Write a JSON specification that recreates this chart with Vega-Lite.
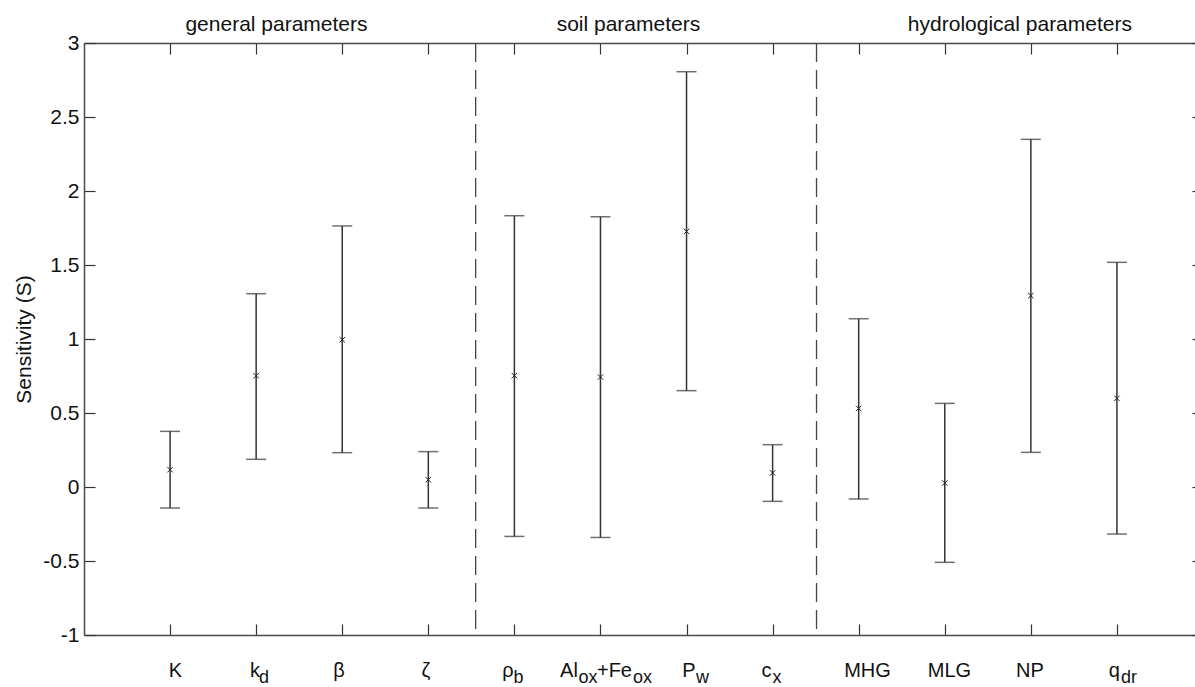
{
  "$schema": "https://vega.github.io/schema/vega-lite/v6.json",
  "autosize": {"type": "none"},
  "padding": {"left": 84, "top": 43, "right": -8, "bottom": 52},
  "width": 1119,
  "height": 592,
  "background": "white",
  "config": {
    "view": {"stroke": null},
    "font": "Liberation Sans",
    "axis": {"grid": false, "domainColor": "#4a4a4a", "domainWidth": 1.5, "tickColor": "#333333", "tickWidth": 1.2, "labelFont": "Liberation Sans", "titleFont": "Liberation Sans", "labelColor": "#111111", "titleColor": "#111111"}
  },
  "datasets": {
    "sens": [
      {"param": "K", "pos": 1, "lo": -0.142, "mid": 0.117, "hi": 0.376},
      {"param": "kd", "pos": 2, "lo": 0.187, "mid": 0.752, "hi": 1.306},
      {"param": "beta", "pos": 3, "lo": 0.232, "mid": 0.995, "hi": 1.764},
      {"param": "zeta", "pos": 4, "lo": -0.142, "mid": 0.049, "hi": 0.239},
      {"param": "rho_b", "pos": 5, "lo": -0.334, "mid": 0.752, "hi": 1.833},
      {"param": "Alox+Feox", "pos": 6, "lo": -0.341, "mid": 0.743, "hi": 1.826},
      {"param": "Pw", "pos": 7, "lo": 0.651, "mid": 1.727, "hi": 2.806},
      {"param": "cx", "pos": 8, "lo": -0.097, "mid": 0.095, "hi": 0.286},
      {"param": "MHG", "pos": 9, "lo": -0.081, "mid": 0.531, "hi": 1.137},
      {"param": "MLG", "pos": 10, "lo": -0.509, "mid": 0.027, "hi": 0.565},
      {"param": "NP", "pos": 11, "lo": 0.234, "mid": 1.293, "hi": 2.349},
      {"param": "qdr", "pos": 12, "lo": -0.318, "mid": 0.599, "hi": 1.518}
    ],
    "separators": [{"pos": 4.55}, {"pos": 8.51}],
    "groups": [
      {"label": "general parameters", "pos": 2.236},
      {"label": "soil parameters", "pos": 6.325},
      {"label": "hydrological parameters", "pos": 10.873}
    ],
    "ticklabels": [
      {"t": "K", "pos": 1.063, "kind": "main"},
      {"t": "k", "pos": 1.987, "kind": "main"},
      {"t": "d", "pos": 2.091, "kind": "sub"},
      {"t": "β", "pos": 2.962, "kind": "main"},
      {"t": "ζ", "pos": 3.973, "kind": "main"},
      {"t": "ρ", "pos": 4.926, "kind": "main"},
      {"t": "b", "pos": 5.048, "kind": "sub"},
      {"t": "Al", "pos": 5.634, "kind": "main"},
      {"t": "ox", "pos": 5.855, "kind": "sub"},
      {"t": "+Fe", "pos": 6.163, "kind": "main"},
      {"t": "ox", "pos": 6.488, "kind": "sub"},
      {"t": "P", "pos": 7.028, "kind": "main"},
      {"t": "w", "pos": 7.185, "kind": "sub"},
      {"t": "c", "pos": 7.929, "kind": "main"},
      {"t": "x", "pos": 8.051, "kind": "sub"},
      {"t": "MHG", "pos": 9.102, "kind": "main"},
      {"t": "MLG", "pos": 10.055, "kind": "main"},
      {"t": "NP", "pos": 10.99, "kind": "main"},
      {"t": "q", "pos": 11.971, "kind": "main"},
      {"t": "dr", "pos": 12.14, "kind": "sub"}
    ]
  },
  "resolve": {"axis": {"x": "independent", "y": "independent"}},
  "layer": [
    {
      "data": {"name": "sens"},
      "mark": {"type": "rule", "color": "#333333", "strokeWidth": 1.5},
      "encoding": {
        "x": {"field": "pos", "type": "quantitative", "scale": {"domain": [0, 13], "nice": false, "zero": false},
              "axis": {"orient": "bottom", "values": [1,2,3,4,5,6,7,8,9,10,11,12], "labels": false, "tickSize": -11, "title": null}},
        "y": {"field": "lo", "type": "quantitative", "scale": {"domain": [-1, 3], "nice": false, "zero": false},
              "axis": {"orient": "left", "values": [-1,-0.5,0,0.5,1,1.5,2,2.5,3], "tickSize": -11, "labelPadding": 16, "labelFontSize": 21, "labelExpr": "toString(datum.value)", "title": "Sensitivity (S)", "titleFontSize": 21, "titleFontWeight": "normal", "titlePadding": 8}},
        "y2": {"field": "hi"}
      }
    },
    {
      "data": {"name": "separators"},
      "mark": {"type": "rule", "color": "#444444", "strokeWidth": 1.3, "strokeDash": [19, 8]},
      "encoding": {
        "x": {"field": "pos", "type": "quantitative", "axis": null}
      }
    },
    {
      "data": {"name": "sens"},
      "mark": {"type": "tick", "orient": "horizontal", "size": 20, "thickness": 1.5, "color": "#333333"},
      "encoding": {
        "x": {"field": "pos", "type": "quantitative", "axis": null},
        "y": {"field": "lo", "type": "quantitative", "axis": null}
      }
    },
    {
      "data": {"name": "sens"},
      "mark": {"type": "tick", "orient": "horizontal", "size": 20, "thickness": 1.5, "color": "#333333"},
      "encoding": {
        "x": {"field": "pos", "type": "quantitative",
              "axis": {"orient": "top", "values": [1,2,3,4,5,6,7,8,9,10,11,12], "labels": false, "tickSize": -11, "title": null}},
        "y": {"field": "hi", "type": "quantitative",
              "axis": {"orient": "right", "values": [-1,-0.5,0,0.5,1,1.5,2,2.5,3], "labels": false, "tickSize": -11, "title": null}}
      }
    },
    {
      "data": {"name": "sens"},
      "mark": {"type": "point", "shape": "M-1,-1L1,1M1,-1L-1,1", "size": 30, "filled": false, "stroke": "#222222", "strokeWidth": 1, "opacity": 1},
      "encoding": {
        "x": {"field": "pos", "type": "quantitative", "axis": null},
        "y": {"field": "mid", "type": "quantitative", "axis": null}
      }
    },
    {
      "data": {"name": "groups"},
      "mark": {"type": "text", "fontSize": 21, "color": "#111111", "align": "center", "baseline": "alphabetic", "dy": -12},
      "encoding": {
        "x": {"field": "pos", "type": "quantitative", "axis": null},
        "y": {"datum": 3, "axis": null},
        "text": {"field": "label"}
      }
    },
    {
      "data": {"name": "ticklabels"},
      "transform": [{"filter": "datum.kind == 'main'"}],
      "mark": {"type": "text", "fontSize": 20, "color": "#111111", "align": "center", "baseline": "alphabetic", "dy": 42},
      "encoding": {
        "x": {"field": "pos", "type": "quantitative", "axis": null},
        "y": {"datum": -1, "axis": null},
        "text": {"field": "t"}
      }
    },
    {
      "data": {"name": "ticklabels"},
      "transform": [{"filter": "datum.kind == 'sub'"}],
      "mark": {"type": "text", "fontSize": 18, "color": "#111111", "align": "center", "baseline": "alphabetic", "dy": 48},
      "encoding": {
        "x": {"field": "pos", "type": "quantitative", "axis": null},
        "y": {"datum": -1, "axis": null},
        "text": {"field": "t"}
      }
    }
  ]
}
